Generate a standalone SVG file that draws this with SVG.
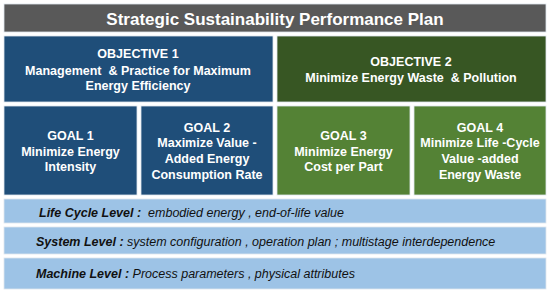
<svg xmlns="http://www.w3.org/2000/svg" width="550" height="295" viewBox="0 0 550 295">
<style>
.box{stroke:#dfe6ee;stroke-width:0.8}
.t{font-family:"Liberation Sans",Arial,sans-serif;fill:#fff;font-weight:bold;text-anchor:middle;font-size:12.5px;white-space:pre}
.title{font-size:17px}
.lv{font-family:"Liberation Sans",Arial,sans-serif;fill:#111;font-size:12.5px;font-style:italic;white-space:pre}
.lb{font-weight:bold}
</style>
<rect width="550" height="295" fill="#fff"/>
<g id="title">
<rect class="box" x="4" y="4" width="542" height="28" fill="#595959"/>
<text class="t title" x="275" y="24.5">Strategic Sustainability Performance Plan</text>
</g>
<g id="objective1">
<rect class="box" x="4" y="36" width="269" height="66" fill="#1f4e79"/>
<text class="t" x="138" y="57.5">OBJECTIVE 1</text>
<text class="t" x="138" y="74.5">Management  &amp; Practice for Maximum</text>
<text class="t" x="138" y="90">Energy Efficiency</text>
</g>
<g id="objective2">
<rect class="box" x="277" y="36" width="269" height="66" fill="#375623"/>
<text class="t" x="411" y="66">OBJECTIVE 2</text>
<text class="t" x="411" y="82">Minimize Energy Waste  &amp; Pollution</text>
</g>
<g id="goal1">
<rect class="box" x="4" y="106" width="133" height="89" fill="#1f4e79"/>
<text class="t" x="70.5" y="139.5">GOAL 1</text>
<text class="t" x="70.5" y="155.5">Minimize Energy</text>
<text class="t" x="70.5" y="171">Intensity</text>
</g>
<g id="goal2">
<rect class="box" x="141" y="106" width="132" height="89" fill="#1f4e79"/>
<text class="t" x="207" y="131.5">GOAL 2</text>
<text class="t" x="207" y="147">Maximize Value -</text>
<text class="t" x="207" y="163">Added Energy</text>
<text class="t" x="207" y="179">Consumption Rate</text>
</g>
<g id="goal3">
<rect class="box" x="277" y="106" width="133" height="89" fill="#548235"/>
<text class="t" x="343.5" y="139.5">GOAL 3</text>
<text class="t" x="343.5" y="155.5">Minimize Energy</text>
<text class="t" x="343.5" y="171">Cost per Part</text>
</g>
<g id="goal4">
<rect class="box" x="414" y="106" width="132" height="89" fill="#548235"/>
<text class="t" x="480" y="131.5">GOAL 4</text>
<text class="t" x="480" y="147">Minimize Life -Cycle</text>
<text class="t" x="480" y="163">Value -added</text>
<text class="t" x="480" y="179">Energy Waste</text>
</g>
<g id="lifecycle">
<rect class="box" x="4" y="199" width="542" height="24" fill="#9dc3e6"/>
<text class="lv" x="39" y="216.5"><tspan class="lb">Life Cycle Level :</tspan>  embodied energy , end-of-life value</text>
</g>
<g id="system">
<rect class="box" x="4" y="227" width="542" height="27" fill="#9dc3e6"/>
<text class="lv" x="36" y="245.5"><tspan class="lb">System Level :</tspan> system configuration , operation plan ; multistage interdependence</text>
</g>
<g id="machine">
<rect class="box" x="4" y="258" width="542" height="31" fill="#9dc3e6"/>
<text class="lv" x="36" y="278"><tspan class="lb">Machine Level :</tspan> Process parameters , physical attributes</text>
</g>
<g id="connectors"/>
</svg>
